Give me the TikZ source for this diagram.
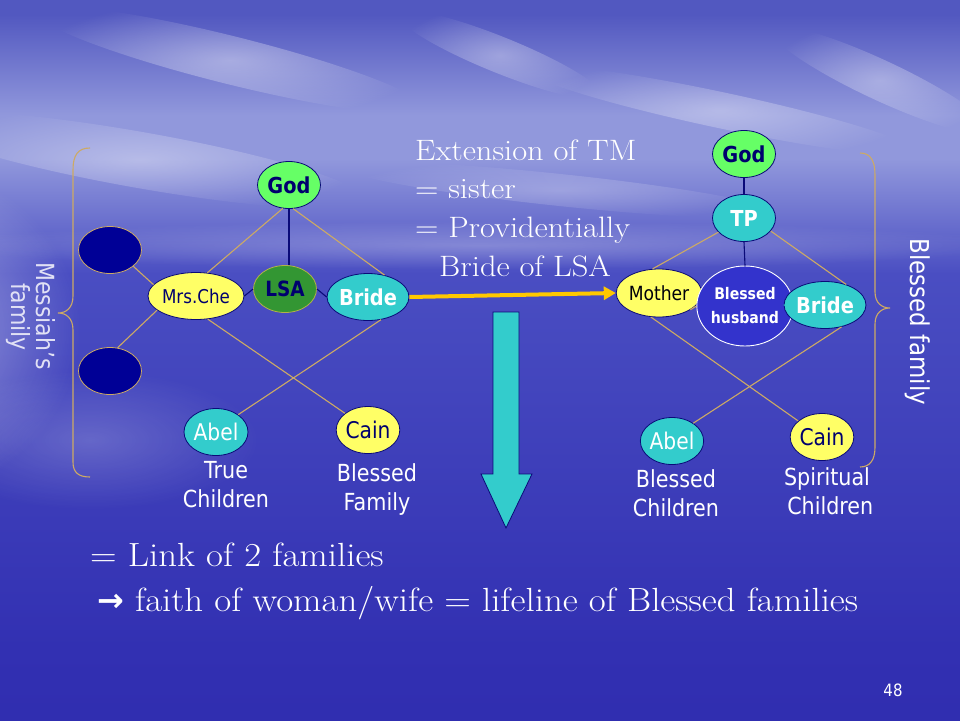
\documentclass[tikz,border=0pt]{standalone}
\usepackage{fontspec}
\setmainfont{Latin Modern Roman}[FakeStretch=1.1]
\setsansfont{DejaVu Sans}[FakeStretch=0.88]
\newfontfamily\symfont{DejaVu Sans}
\usetikzlibrary{shapes.geometric,arrows.meta,fadings}
\definecolor{bgtop}{RGB}{72,76,186}
\definecolor{bgsky}{RGB}{82,88,192}
\definecolor{bghor}{RGB}{145,152,220}
\definecolor{bgwat}{RGB}{74,78,194}
\definecolor{bgmid}{RGB}{50,48,178}
\definecolor{bgbot}{RGB}{38,34,165}
\definecolor{ngreen}{RGB}{102,255,102}
\definecolor{dgreen}{RGB}{51,150,51}
\definecolor{nyellow}{RGB}{255,255,102}
\definecolor{nteal}{RGB}{51,204,204}
\definecolor{navytext}{RGB}{0,0,110}
\definecolor{navyline}{RGB}{10,10,120}
\definecolor{darkov}{RGB}{0,0,150}
\definecolor{husb}{RGB}{51,51,204}
\definecolor{tan}{RGB}{205,170,100}
\definecolor{orangeln}{RGB}{255,200,0}
\definecolor{mistwhite}{RGB}{225,225,245}
\pgfdeclareverticalshading{seasky}{100bp}{
  color(0bp)=(bgbot); color(30bp)=(bgmid); color(56bp)=(bgwat); color(64bp)=(bghor);
  color(67bp)=(bghor); color(74bp)=(bgsky); color(100bp)=(bgtop)}
\tikzfading[name=softedge, inner color=transparent!0, outer color=transparent!100]
\begin{document}
\begin{tikzpicture}[x=1pt,y=-1pt,
  fam/.style={ellipse, draw=navyline, line width=0.8pt, inner sep=0pt,
    minimum width=63pt, minimum height=47pt, font=\sffamily\fontsize{23}{26}\selectfont},
  godn/.style={fam, fill=ngreen, text=navytext, font=\sffamily\bfseries\fontsize{22}{26}\selectfont},
  tealb/.style={fam, fill=nteal, text=white, font=\sffamily\bfseries\fontsize{22}{26}\selectfont},
  tealr/.style={fam, fill=nteal, text=white},
  yellr/.style={fam, fill=nyellow, text=navytext},
  darkn/.style={ellipse, draw=tan, line width=0.8pt, fill=darkov,
    minimum width=63pt, minimum height=47pt, inner sep=0pt},
  tanln/.style={draw=tan, line width=1.1pt},
  navyln/.style={draw=navyline, line width=1.1pt},
  caption/.style={text=white, align=center, font=\sffamily\fontsize{23.5}{29}\selectfont},
  serif/.style={text=white, anchor=base west, inner sep=0pt, font=\fontsize{29.5}{36}\selectfont},
  bigserif/.style={text=white, anchor=base west, inner sep=0pt, font=\fontsize{33.5}{38}\selectfont},
  bracestyle/.style={draw=tan, line width=1.1pt},
  cloud/.style={white, path fading=softedge}
]
% background
\useasboundingbox (0,0) rectangle (960,720);
\shade[shading=seasky] (0,0) rectangle (960,720);
\fill[cloud, opacity=0.55] (-110,330) ellipse [x radius=190pt, y radius=170pt];
\fill[cloud, opacity=0.25] (480,245) ellipse [x radius=540pt, y radius=24pt];
\fill[cloud, opacity=0.40, rotate around={-14:(230,60)}] (230,60) ellipse [x radius=200pt, y radius=24pt];
\fill[cloud, opacity=0.35, rotate around={-22:(500,55)}] (500,55) ellipse [x radius=110pt, y radius=18pt];
\fill[cloud, opacity=0.35, rotate around={-10:(140,160)}] (140,160) ellipse [x radius=230pt, y radius=28pt];
\fill[cloud, opacity=0.35, rotate around={-12:(720,110)}] (720,110) ellipse [x radius=200pt, y radius=18pt];
\fill[cloud, opacity=0.35, rotate around={-25:(880,80)}] (880,80) ellipse [x radius=120pt, y radius=20pt];
\fill[cloud, opacity=0.25, rotate around={-6:(560,190)}] (560,190) ellipse [x radius=220pt, y radius=16pt];
\fill[cloud, opacity=0.20] (90,440) ellipse [x radius=170pt, y radius=70pt];

% ---------- left family ----------
\node[godn] (LGod) at (289,185) {God};
\node[fam, fill=dgreen, draw=nyellow!70!black, text=navytext, font=\sffamily\bfseries\fontsize{21}{26}\selectfont] (LSA) at (285,289) {LSA};
\node[yellr, minimum width=71pt, font=\sffamily\fontsize{19}{22}\selectfont] (MrsChe) at (196,296) {Mrs.Che};
\node[tealb] (LBride) at (368,297) {Bride};
\node[darkn] (DarkA) at (110,250) {};
\node[darkn] (DarkB) at (110,371) {};
\node[tealr, minimum width=64pt] (LAbel) at (216,432) {Abel};
\node[yellr] (LCain) at (368,430) {Cain};
\node[caption] (TrueCh) at (226,485) {True\\Children};
\node[caption] (BlessFam) at (377,490) {Blessed\\Family};

\draw[navyln] (LGod.south) -- (LGod.south |- LSA.north);
\draw[navyln] (MrsChe.east) -- (LSA.west);
\draw[navyln] (LSA.east) -- (LBride.west);
\draw[tanln] (LGod.255) -- (MrsChe.64);
\draw[tanln] (LGod.280) -- (LBride.53);
\draw[tanln] (DarkA.325) -- (MrsChe.165);
\draw[tanln] (DarkB.72) -- (MrsChe.200);
\draw[tanln] (MrsChe.297) -- (LCain.144);
\draw[tanln] (LBride.300) -- (LAbel.38);

% left brace
\draw[bracestyle] (90,148) .. controls (78,148) and (73,155) .. (73,170) -- (73,296)
  .. controls (73,308) and (66,313) .. (58,313) .. controls (66,313) and (73,318) .. (73,330)
  -- (73,462) .. controls (73,472) and (78,477) .. (90,477);
\node[rotate=-90, text=mistwhite, font=\sffamily\fontsize{25}{28}\selectfont] (MessA) at (46,316) {Messiah's};
\node[rotate=-90, text=mistwhite, font=\sffamily\fontsize{25}{28}\selectfont] (MessB) at (18,317) {family};

% ---------- right family ----------
\node[godn] (RGod) at (744,154) {God};
\node[tealb] (TP) at (744,218) {TP};
\node[yellr, minimum width=56pt, minimum height=48pt, text=black!90!navytext, font=\sffamily\fontsize{19.5}{22}\selectfont] (Mother) at (659,293) {Mother};
\node[ellipse, draw=white, line width=0.9pt, fill=husb, text=white, inner sep=0pt,
  minimum width=77pt, minimum height=80pt, align=center,
  font=\sffamily\bfseries\fontsize{16}{24}\selectfont] (Husband) at (745,306) {Blessed\\husband};
\node[tealb] (RBride) at (825,305) {Bride};
\node[tealr] (RAbel) at (672,441) {Abel};
\node[yellr] (RCain) at (822,437) {Cain};
\node[caption] (BlessCh) at (676,493) {Blessed\\Children};
\node[caption] (SpirCh) at (827,491) {Spiritual\\\ Children};

\draw[navyln] (RGod.south) -- (TP.north);
\draw[navyln] (TP.south) -- (Husband.north);
\draw[tanln] (TP.209) -- (Mother.105);
\draw[tanln] (TP.334) -- (RBride.44);
\draw[tanln] (Mother.-28) -- (Husband.west);
\draw[draw=nteal, line width=1.1pt] (Husband.east) -- (RBride.west);
\draw[tanln] (Mother.251) -- (RCain.146);
\draw[tanln] (RBride.307) -- (RAbel.40);

% right brace
\draw[bracestyle] (860,153) .. controls (870,153) and (875,160) .. (875,175) -- (875,292)
  .. controls (875,303) and (882,308) .. (890,308) .. controls (882,308) and (875,313) .. (875,324)
  -- (875,447) .. controls (875,460) and (870,467) .. (860,467);
\node[rotate=-90, text=white, font=\sffamily\fontsize{26}{28}\selectfont] (BlessedFamily) at (918,322) {Blessed family};

% ---------- link ----------
\draw[draw=orangeln, line width=4pt, -{Triangle[length=12pt, width=13pt]}] (LBride.east) -- (Mother.west);
\draw[fill=nteal, draw=navyline, line width=0.8pt]
  (493,312) -- (519,312) -- (519,474) -- (532,474) -- (506,528) -- (481,474) -- (493,474) -- cycle;

% ---------- texts ----------
\node[serif] (T1) at (415,160) {Extension of TM};
\node[serif] (T2) at (415,198) {= sister};
\node[serif] (T3) at (415,237) {= Providentially};
\node[serif] (T4) at (439,276) {Bride of LSA};
\node[bigserif] (B1) at (90,566) {= Link of 2 families};
\node[bigserif] (B2) at (97,611) {{\symfont\bfseries\fontsize{32}{30}\selectfont →} faith of woman/wife = lifeline of Blessed families};
\node[text=white, font=\sffamily\fontsize{17}{20}\selectfont] (PageNo) at (893,690) {48};
\end{tikzpicture}
\end{document}
